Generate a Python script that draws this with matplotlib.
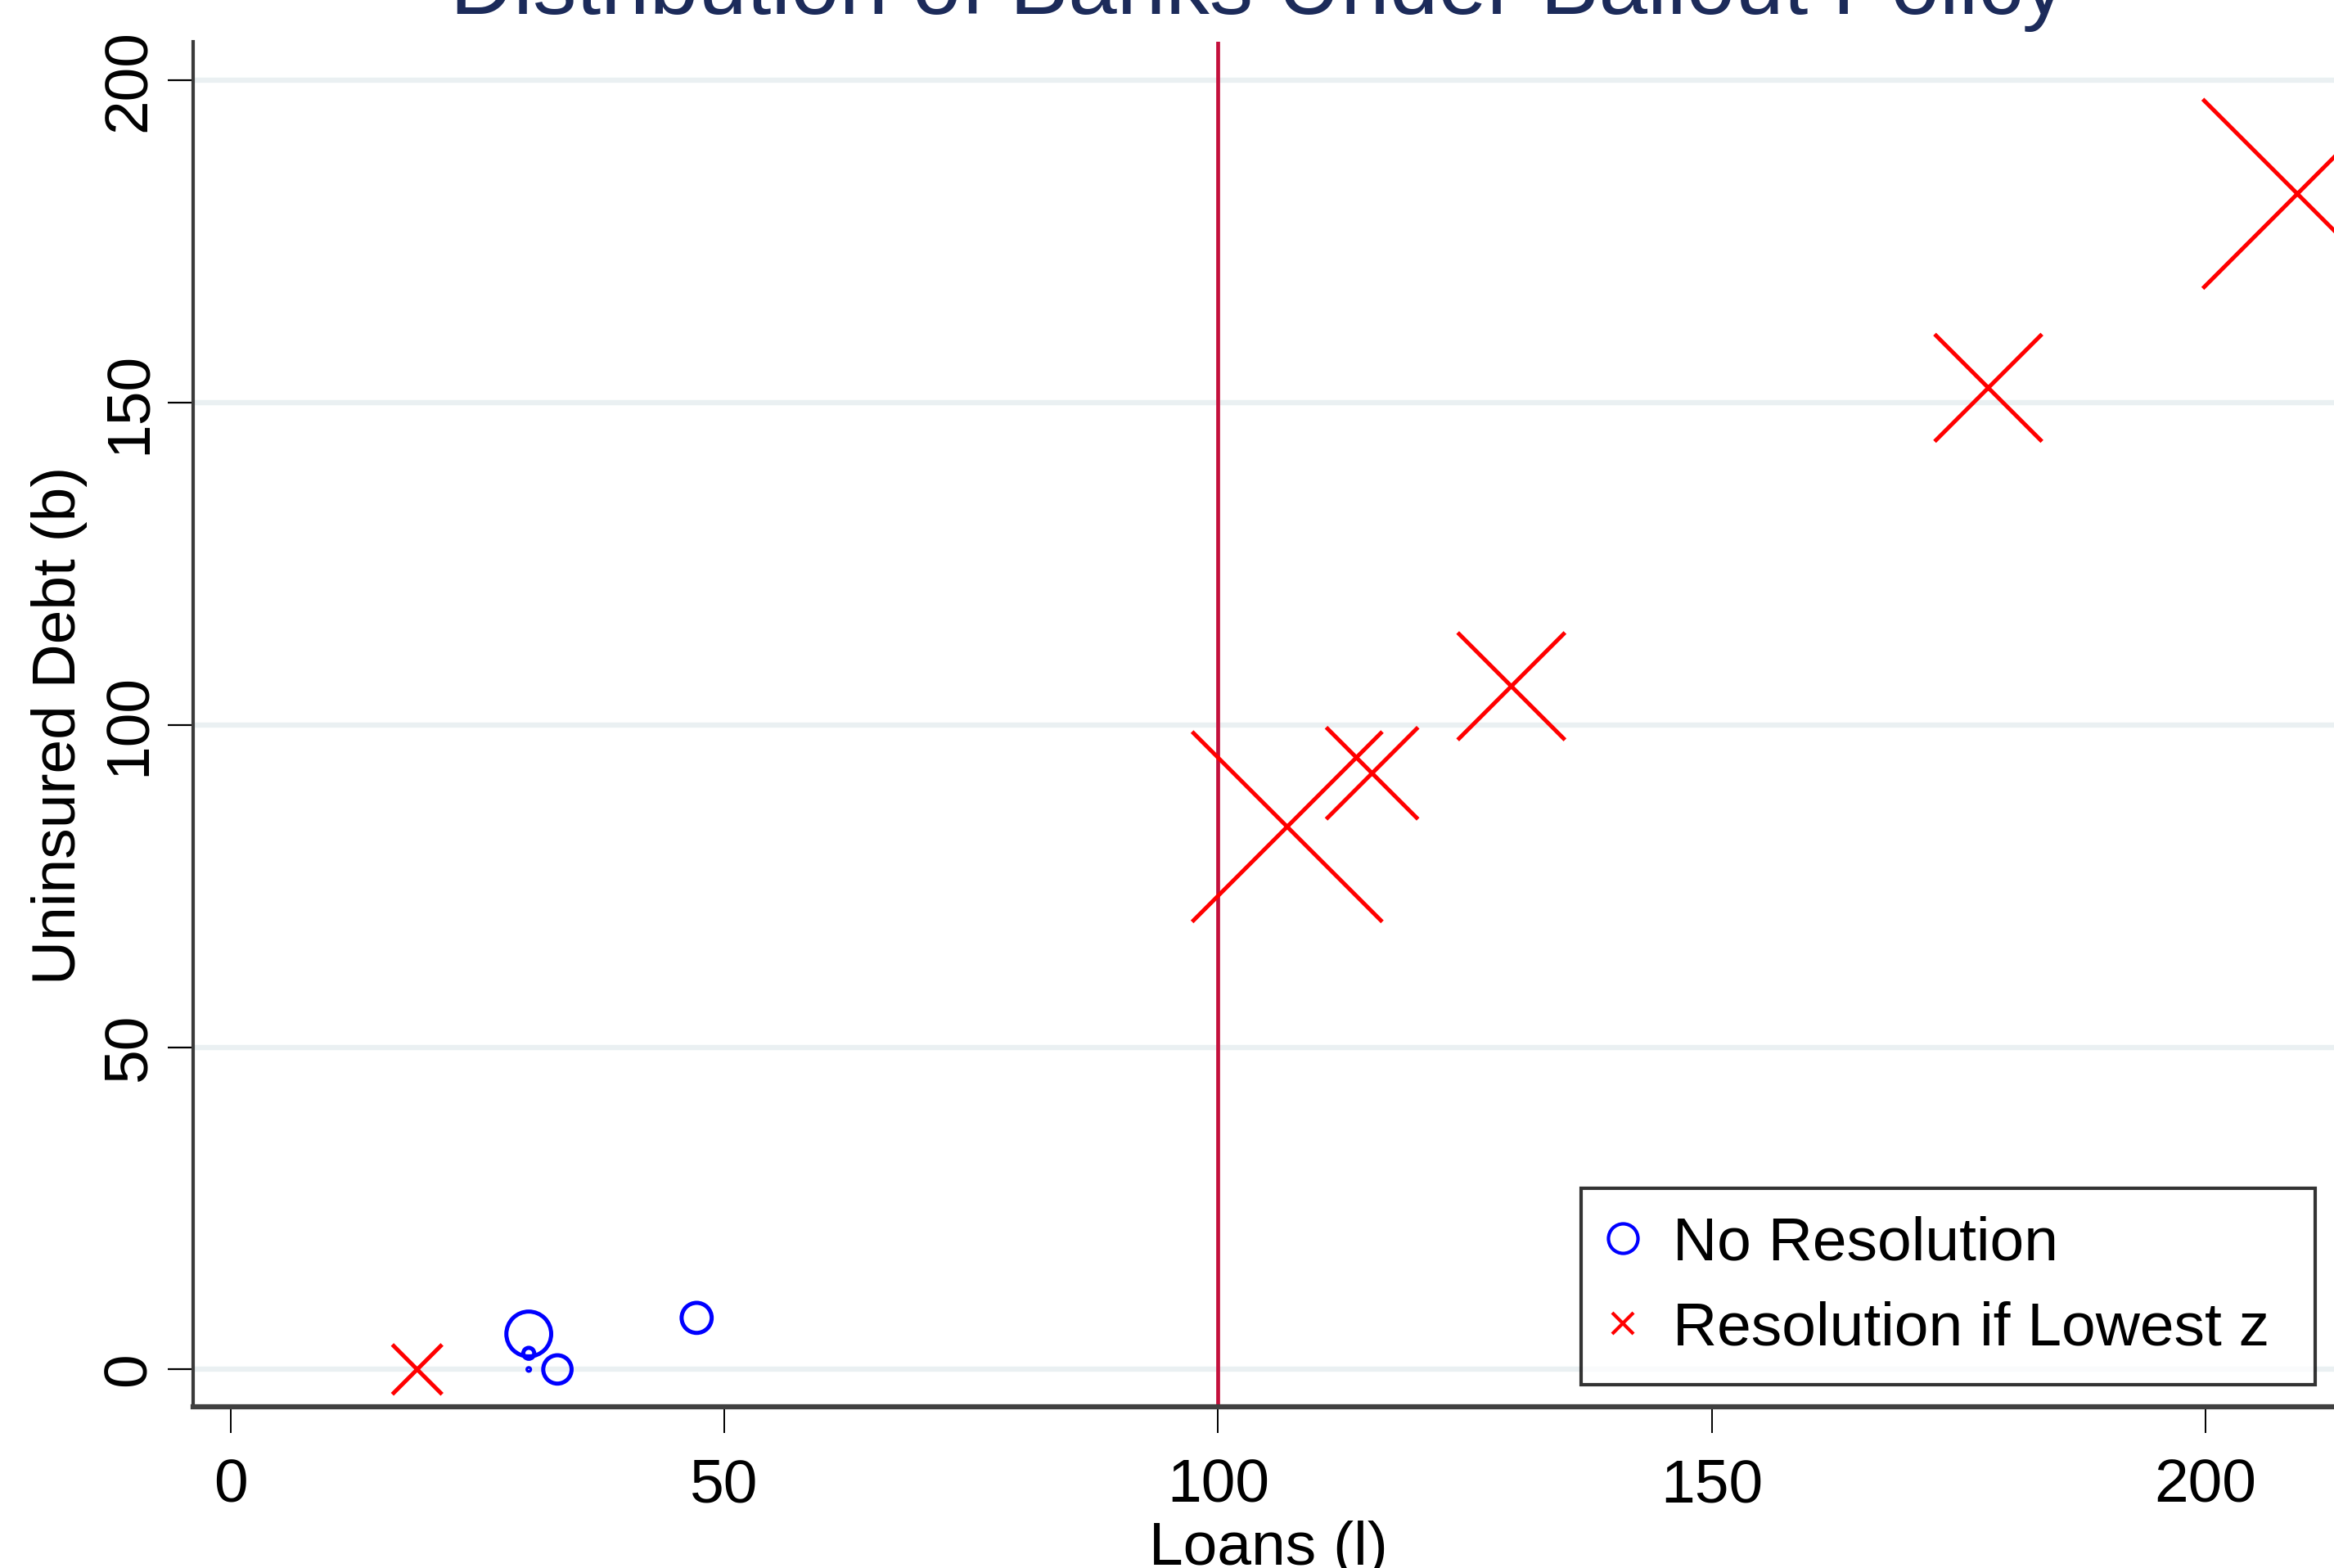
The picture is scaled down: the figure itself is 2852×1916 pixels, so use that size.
import matplotlib
matplotlib.use("Agg")
import matplotlib.pyplot as plt
from matplotlib.lines import Line2D

plt.rcParams['font.family'] = ['Liberation Sans', 'DejaVu Sans']

# Banks with no resolution (blue circles)
no_res_loans = [30.2, 30.2, 30.2, 33.1, 47.2]
no_res_debt = [5.5, 2.5, 0.0, 0.0, 8.0]
no_res_weight = [30.0, 1.8, 0.1, 12.0, 13.5]

# Banks resolved if lowest z (red crosses)
res_loans = [18.9, 107.0, 115.6, 129.7, 178.0, 209.3]
res_debt = [0.0, 84.2, 92.5, 106.0, 152.3, 182.4]
res_weight = [37.0, 540.0, 126.0, 172.0, 172.0, 535.0]

x_ticks = [0, 50, 100, 150, 200]
y_ticks = [0, 50, 100, 150, 200]
cutoff = 100

fig = plt.figure(figsize=(28.52, 19.16), dpi=100)
ax = fig.add_axes([0.0827, 0.1028, 0.9215, 0.8706])

# marker area from weight (weight unit ~ (10 px)^2)
k = (10 * 0.72) ** 2
ax.grid(axis='y', color='#eaf0f2', linewidth=4.6, zorder=0)
ax.axvline(cutoff, color='#c4103c', linewidth=3.4, zorder=2)
ax.scatter(no_res_loans, no_res_debt, s=[w * k for w in no_res_weight],
           marker='o', facecolors='none', edgecolors='#0000ff', linewidths=3.6, zorder=3)
ax.scatter(res_loans, res_debt, s=[w * k for w in res_weight],
           marker='x', color='#ff0000', linewidths=3.6, zorder=3)

ax.set_xlim(-3.8, 214)
ax.set_ylim(-5.8, 206)
ax.set_xticks(x_ticks)
ax.set_yticks(y_ticks)
ax.set_xticklabels([str(v) for v in x_ticks], fontsize=54)
ax.set_yticklabels([str(v) for v in y_ticks], fontsize=54, rotation=90, va='center')
ax.tick_params(axis='x', length=23, width=1.4, pad=22, colors='black')
ax.tick_params(axis='y', length=22, width=1.6, pad=9, colors='black')

for side in ['top', 'right']:
    ax.spines[side].set_visible(False)
ax.spines['left'].set_linewidth(3)
ax.spines['left'].set_color('#3a3a3a')
ax.spines['bottom'].set_linewidth(4.5)
ax.spines['bottom'].set_color('#404040')

ax.set_xlabel('Loans (l)', fontsize=54, va='baseline')
ax.xaxis.set_label_coords(0.5, -0.1157)
ax.set_ylabel('Uninsured Debt (b)', fontsize=54, va='center')
ax.yaxis.set_label_coords(-0.0622, 0.4994)

fig.text(0.539, 0.9911, 'Distribution of Banks Under Bailout Policy',
         fontsize=77, color='#1c2b5a', ha='center', va='baseline')

handles = [
    Line2D([], [], marker='o', linestyle='none', markersize=26, markerfacecolor='none',
           markeredgecolor='#0000ff', markeredgewidth=3),
    Line2D([], [], marker='x', linestyle='none', markersize=19,
           color='#ff0000', markeredgewidth=3),
]
leg = fig.legend(handles, ['No Resolution', 'Resolution if Lowest z'],
                 loc='upper left', bbox_to_anchor=(0.6774, 0.1169, 0.3146, 0.1253),
                 mode='expand', fontsize=54, frameon=True, fancybox=False,
                 borderpad=0.45, handlelength=0.45, handletextpad=0.6,
                 labelspacing=0.46, borderaxespad=0)
leg.get_frame().set_edgecolor('black')
leg.get_frame().set_linewidth(3)

fig.savefig('out.png', dpi=100)
